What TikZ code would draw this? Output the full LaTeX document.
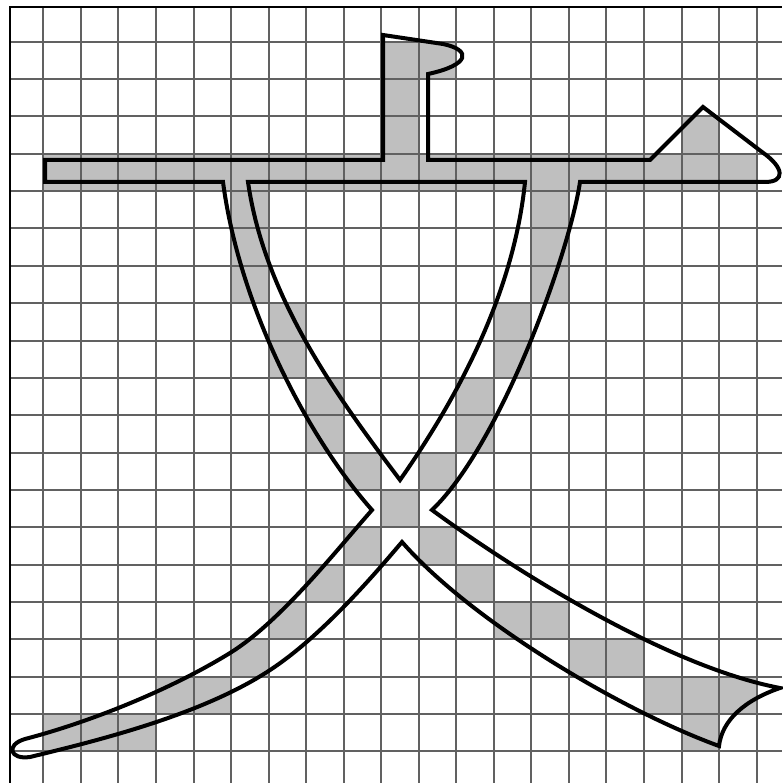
\documentclass[tikz,border=0pt]{standalone}
\begin{document}
\begin{tikzpicture}[
    x=1pt, y=-1pt,
    cell/.style={fill=black!25},
    gridline/.style={draw=black!62, line width=2pt},
    frameline/.style={draw=black, line width=1.8pt},
    glyph/.style={draw=black, line width=4pt}
]
    \useasboundingbox (0,0) rectangle (782,783);
    \foreach \c/\r in {10/1, 11/1, 10/2, 10/3, 18/3,
                       6/5, 14/5, 6/6, 14/6, 6/7, 14/7, 7/8, 13/8, 7/9, 13/9,
                       8/10, 12/10, 8/11, 12/11, 9/12, 11/12, 10/13, 9/14, 11/14,
                       8/15, 12/15, 7/16, 13/16, 14/16, 6/17, 15/17, 16/17,
                       4/18, 5/18, 17/18, 18/18, 19/18, 1/19, 2/19, 3/19, 18/19}
        \fill[cell] ({5.8+37.54*\c},{4.35+37.35*\r}) rectangle +(37.54,37.35);
    \foreach \c in {1,...,19}
        \fill[cell] ({5.8+37.54*\c},{4.35+37.35*4}) rectangle +(37.54,37.35);
    \foreach \k in {1,...,20} {
        \draw[gridline] ({5.8+37.54*\k},7) -- ({5.8+37.54*\k},783);
        \draw[gridline] (10,{4.35+37.35*\k}) -- (782,{4.35+37.35*\k});
    }
    \draw[frameline] (10,783) -- (10,7) -- (782,7);
    \draw[glyph] (45,160) -- (383,160) -- (383,35) -- (443,44)
        .. controls (472,50) and (470,65) .. (428,74) -- (428,160)
        -- (650,160) -- (703,107) -- (762,152)
        .. controls (785,168) and (785,182) .. (765,182) -- (580,182)
        .. controls (569,255) and (500,445) .. (432,510)
        .. controls (500,560) and (660,665) .. (780,688)
        .. controls (745,700) and (722,720) .. (719,746)
        .. controls (620,710) and (470,620) .. (402,542)
        .. controls (378,570) and (322,637) .. (267,672)
        .. controls (200,715) and (100,740) .. (30,757)
        .. controls (10,760) and (5,745) .. (25,739)
        .. controls (90,722) and (170,690) .. (230,653)
        .. controls (280,622) and (335,552) .. (372,510)
        .. controls (310,440) and (240,310) .. (223,182)
        -- (45,182) -- cycle;
    \draw[glyph] (248,182) -- (525,182)
        .. controls (515,280) and (470,380) .. (400,480)
        .. controls (340,400) and (265,300) .. (248,182) -- cycle;
\end{tikzpicture}
\end{document}
